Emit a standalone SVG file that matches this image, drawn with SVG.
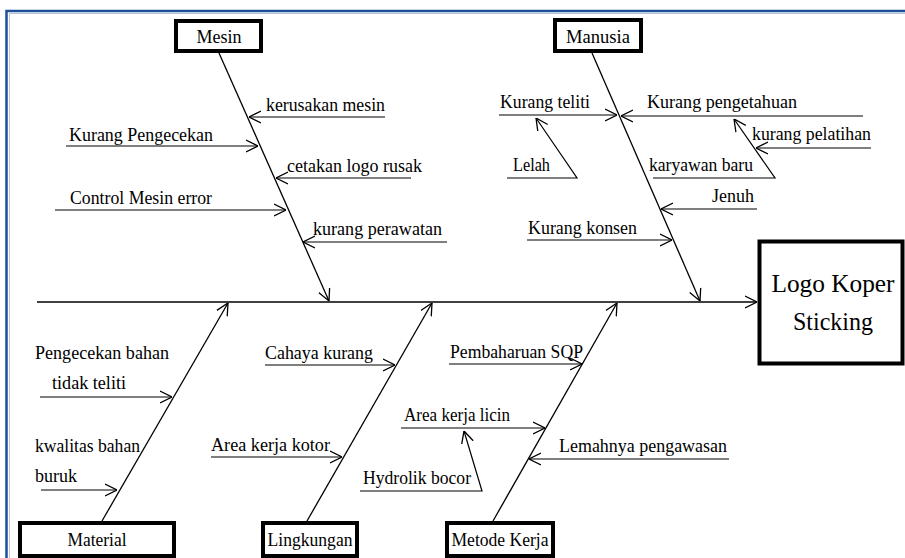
<svg xmlns="http://www.w3.org/2000/svg" width="905" height="558" viewBox="0 0 905 558">
<style>
text{font-family:"Liberation Serif","Times New Roman","DejaVu Serif",serif;font-size:18px;fill:#000}
.c{text-anchor:middle}
.box{fill:#fff;stroke:#000;stroke-width:4}
.bone{stroke:#000;stroke-width:1.3;fill:none;marker-end:url(#a)}
.sub{stroke:#000;stroke-width:1.2;fill:none;marker-end:url(#a)}
</style>
<defs>
<marker id="a" viewBox="0 0 12 14" refX="12" refY="7" markerWidth="12" markerHeight="14" markerUnits="userSpaceOnUse" orient="auto">
<path d="M0,1 L12,7 L0,13" fill="none" stroke="#000" stroke-width="1.3"/>
</marker>
</defs>
<rect x="0" y="0" width="905" height="558" fill="#fff"/>
<rect x="6.5" y="11" width="905" height="560" fill="none" stroke="#1d4f9b" stroke-width="2.5"/>
<rect x="9.5" y="13.5" width="905" height="560" fill="none" stroke="#b8c4d6" stroke-width="1"/>

<g id="connectors">
<line x1="37" y1="302" x2="757" y2="302" stroke="#000" stroke-width="1.6" marker-end="url(#a)"/>
<line class="bone" x1="219" y1="53" x2="329" y2="301"/>
<line class="bone" x1="592" y1="53" x2="700" y2="301"/>
<line class="bone" x1="102" y1="521" x2="228" y2="303"/>
<line class="bone" x1="307" y1="521" x2="432" y2="303"/>
<line class="bone" x1="493" y1="521" x2="617" y2="303"/>

<line class="sub" x1="385" y1="117" x2="249" y2="117"/>
<line class="sub" x1="66" y1="146" x2="258" y2="146"/>
<line class="sub" x1="411" y1="178" x2="276" y2="178"/>
<line class="sub" x1="55" y1="210" x2="286" y2="210"/>
<line class="sub" x1="447" y1="242" x2="303" y2="242"/>

<line class="sub" x1="499" y1="115" x2="617" y2="115"/>
<line class="sub" x1="863" y1="116" x2="621" y2="116"/>
<polyline class="sub" points="507,178 577,178 536,118"/>
<polyline class="sub" points="653,178 775,178 734,119"/>
<line class="sub" x1="871" y1="148" x2="756" y2="148"/>
<line class="sub" x1="757" y1="209" x2="661" y2="209"/>
<line class="sub" x1="527" y1="240" x2="672" y2="240"/>

<line class="sub" x1="40" y1="397" x2="172" y2="397"/>
<line class="sub" x1="41" y1="490" x2="117" y2="490"/>
<line class="sub" x1="265" y1="365" x2="395" y2="365"/>
<line class="sub" x1="211" y1="457" x2="342" y2="457"/>
<line class="sub" x1="449" y1="364" x2="582" y2="364"/>
<line class="sub" x1="401" y1="428" x2="545" y2="428"/>
<polyline class="sub" points="360,491 482,491 464,431"/>
<line class="sub" x1="729" y1="459" x2="529" y2="459"/>
</g>

<g id="labels">
<text x="266" y="111" textLength="119" lengthAdjust="spacingAndGlyphs">kerusakan mesin</text>
<text x="69" y="141" textLength="144" lengthAdjust="spacingAndGlyphs">Kurang Pengecekan</text>
<text x="287" y="172" textLength="135" lengthAdjust="spacingAndGlyphs">cetakan logo rusak</text>
<text x="70" y="204" textLength="142" lengthAdjust="spacingAndGlyphs">Control Mesin error</text>
<text x="313" y="235" textLength="129" lengthAdjust="spacingAndGlyphs">kurang perawatan</text>
<text x="500" y="108" textLength="90" lengthAdjust="spacingAndGlyphs">Kurang teliti</text>
<text x="647" y="108" textLength="150" lengthAdjust="spacingAndGlyphs">Kurang pengetahuan</text>
<text x="752" y="140" textLength="119" lengthAdjust="spacingAndGlyphs">kurang pelatihan</text>
<text x="513" y="171" textLength="37" lengthAdjust="spacingAndGlyphs">Lelah</text>
<text x="649" y="171" textLength="104" lengthAdjust="spacingAndGlyphs">karyawan baru</text>
<text x="712" y="202" textLength="42" lengthAdjust="spacingAndGlyphs">Jenuh</text>
<text x="528" y="234" textLength="109" lengthAdjust="spacingAndGlyphs">Kurang konsen</text>
<text x="35" y="359" textLength="134" lengthAdjust="spacingAndGlyphs">Pengecekan bahan</text>
<text x="52" y="389" textLength="74" lengthAdjust="spacingAndGlyphs">tidak teliti</text>
<text x="35" y="452" textLength="105" lengthAdjust="spacingAndGlyphs">kwalitas bahan</text>
<text x="35" y="482" textLength="42" lengthAdjust="spacingAndGlyphs">buruk</text>
<text x="265" y="359" textLength="108" lengthAdjust="spacingAndGlyphs">Cahaya kurang</text>
<text x="211" y="451" textLength="119" lengthAdjust="spacingAndGlyphs">Area kerja kotor</text>
<text x="450" y="358" textLength="133" lengthAdjust="spacingAndGlyphs">Pembaharuan SQP</text>
<text x="404" y="421" textLength="106" lengthAdjust="spacingAndGlyphs">Area kerja licin</text>
<text x="363" y="484" textLength="108" lengthAdjust="spacingAndGlyphs">Hydrolik bocor</text>
<text x="559" y="452" textLength="168" lengthAdjust="spacingAndGlyphs">Lemahnya pengawasan</text>
</g>

<g id="mesin"><rect class="box" x="176" y="21" width="85" height="30"/><text class="c" x="219" y="43" textLength="45" lengthAdjust="spacingAndGlyphs">Mesin</text></g>
<g id="manusia"><rect class="box" x="555" y="20" width="86" height="31"/><text class="c" x="598" y="43" textLength="64" lengthAdjust="spacingAndGlyphs">Manusia</text></g>
<g id="material"><rect class="box" x="20" y="523" width="154" height="33"/><text class="c" x="97" y="546" textLength="59" lengthAdjust="spacingAndGlyphs">Material</text></g>
<g id="lingkungan"><rect class="box" x="263" y="523" width="94" height="33"/><text class="c" x="310" y="546" textLength="85" lengthAdjust="spacingAndGlyphs">Lingkungan</text></g>
<g id="metode-kerja"><rect class="box" x="447" y="523" width="106" height="33"/><text class="c" x="500" y="546" textLength="97" lengthAdjust="spacingAndGlyphs">Metode Kerja</text></g>
<g id="logo-koper"><rect class="box" x="759.5" y="241.5" width="143" height="122"/><text class="c" x="833" y="292" style="font-size:25px" textLength="123" lengthAdjust="spacingAndGlyphs">Logo Koper</text><text class="c" x="833" y="330" style="font-size:25px" textLength="80" lengthAdjust="spacingAndGlyphs">Sticking</text></g>
</svg>
